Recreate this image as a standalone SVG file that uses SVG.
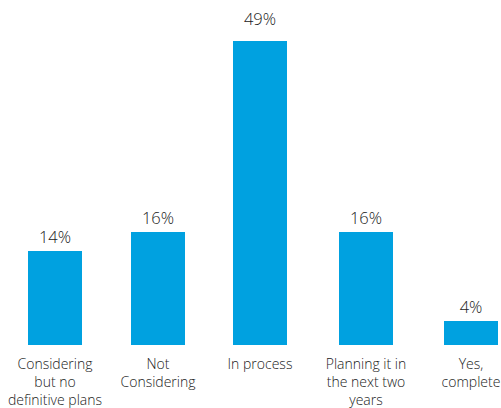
<svg xmlns="http://www.w3.org/2000/svg" width="501" height="408" viewBox="0 0 501 408">
<style>
.bar{fill:#00a1e0}
.val{font-family:"Open Sans","Noto Sans",sans-serif;font-weight:300;font-size:16.5px;fill:#222;text-anchor:middle}
.cat{font-family:"Open Sans","Noto Sans",sans-serif;font-weight:300;font-size:14px;fill:#222;text-anchor:middle}
</style>
<rect width="501" height="408" fill="#fff"/>
<g id="bar1"><rect class="bar" x="28" y="251" width="54" height="94"/><text class="val" x="55" y="243">14%</text><text class="cat" x="55" y="369">Considering</text><text class="cat" x="55" y="387">but no</text><text class="cat" x="55" y="405">definitive plans</text></g>
<g id="bar2"><rect class="bar" x="131" y="232" width="54" height="113"/><text class="val" x="158" y="224">16%</text><text class="cat" x="158" y="369">Not</text><text class="cat" x="158" y="387">Considering</text></g>
<g id="bar3"><rect class="bar" x="233" y="41" width="54" height="304"/><text class="val" x="260" y="25">49%</text><text class="cat" x="260" y="369">In process</text></g>
<g id="bar4"><rect class="bar" x="339" y="232" width="54" height="113"/><text class="val" x="366" y="224">16%</text><text class="cat" x="366" y="369">Planning it in</text><text class="cat" x="366" y="387">the next two</text><text class="cat" x="366" y="405">years</text></g>
<g id="bar5"><rect class="bar" x="444" y="321" width="54" height="24"/><text class="val" x="471" y="313">4%</text><text class="cat" x="471" y="369">Yes,</text><text class="cat" x="471" y="387">complete</text></g>
<g id="connectors"/>
</svg>
